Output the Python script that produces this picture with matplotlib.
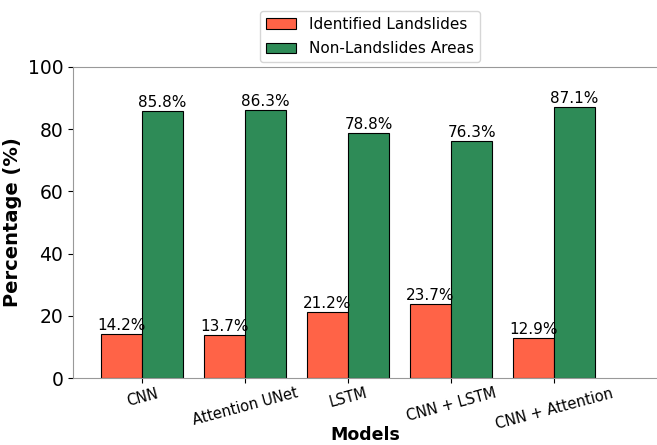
import matplotlib
matplotlib.use("Agg")
import matplotlib.pyplot as plt
import numpy as np

models = ["CNN", "Attention UNet", "LSTM", "CNN + LSTM", "CNN + Attention"]
landslides = [14.2, 13.7, 21.2, 23.7, 12.9]
non_landslides = [85.8, 86.3, 78.8, 76.3, 87.1]

fig = plt.figure(figsize=(6.57, 4.45), dpi=100)
ax = fig.add_axes([73 / 657, 67 / 445, 1 - 73 / 657, 311 / 445])

x = np.arange(len(models))
w = 0.4
b1 = ax.bar(x - w / 2, landslides, w, color="#FF6347", edgecolor="black",
            linewidth=0.8, label="Identified Landslides")
b2 = ax.bar(x + w / 2, non_landslides, w, color="#2E8B57", edgecolor="black",
            linewidth=0.8, label="Non-Landslides Areas")

for bars in (b1, b2):
    for bar in bars:
        h = bar.get_height()
        ax.text(bar.get_x() + bar.get_width() / 2, h + 0.3, f"{h}%",
                ha="center", va="bottom", fontsize=11)

ax.set_xlim(-0.67, 5.0)
ax.set_ylim(0, 100)
ax.set_xticks(x)
ax.set_xticklabels(models, rotation=15, fontsize=10.5)
ax.tick_params(axis="x", pad=2)
ax.tick_params(axis="y", labelsize=13.5)
ax.set_xlabel("Models", fontsize=12.5, fontweight="bold", labelpad=-4)
ax.set_ylabel("Percentage (%)", fontsize=14, fontweight="bold")
for s in ax.spines.values():
    s.set_color("#999999")
ax.spines["right"].set_visible(False)

ax.legend(loc="lower center", bbox_to_anchor=(0.508, 1.0), fontsize=11,
          frameon=True, borderaxespad=0.3, labelspacing=0.6)

fig.savefig("out.png", dpi=100)
